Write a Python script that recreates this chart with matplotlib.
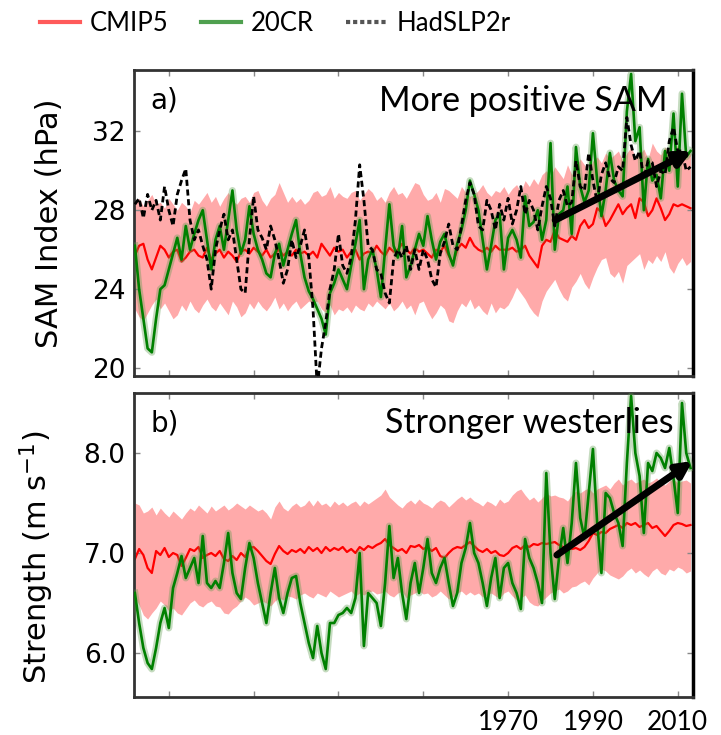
import matplotlib
matplotlib.use("Agg")
import matplotlib.pyplot as plt
import numpy as np
from matplotlib.lines import Line2D

# years 1882-2013
years = np.arange(1882, 2014)

# (a) SAM index, hPa
sam_cmip5 = [
    25.7, 26.2, 26.3, 25.5, 25.0, 25.6, 26.2, 26.0, 25.6, 25.9,
    26.0, 25.4, 25.6, 25.9, 26.0, 25.7, 25.6, 26.1, 25.5, 25.8,
    26.0, 25.6, 25.9, 25.7, 25.4, 25.9, 26.0, 25.8, 26.1, 25.9,
    25.7, 26.0, 25.6, 25.8, 26.0, 25.7, 25.9, 25.7, 26.0, 25.8,
    25.9, 25.7, 25.9, 25.6, 26.3, 26.0, 25.7, 26.1, 25.9, 26.0,
    25.6, 25.9, 26.0, 25.5, 25.8, 25.9, 25.8, 26.2, 25.9, 25.7,
    26.1, 25.9, 26.0, 26.3, 26.0, 25.8, 26.1, 25.9, 26.0, 25.8,
    25.6, 26.0, 25.9, 26.2, 25.7, 25.3, 26.0, 26.3, 26.1, 26.6,
    26.2, 26.0, 25.9, 26.1, 25.9, 26.2, 26.0, 26.0, 26.0, 26.1,
    25.9, 26.0, 26.2, 25.7, 25.4, 25.1, 26.2, 26.5, 26.4, 27.0,
    26.6, 26.5, 26.4, 26.7, 26.5, 27.2, 27.5, 27.1, 27.3, 28.1,
    27.9, 27.2, 27.5, 27.9, 28.3, 27.8, 28.1, 28.3, 27.6, 28.6,
    28.4, 27.7, 28.0, 28.6, 28.1, 27.5, 27.8, 28.3, 28.2, 28.3,
    28.2, 28.1,
]
sam_cmip5_hi = [
    28.4, 28.6, 28.2, 28.5, 28.8, 28.3, 28.4, 28.1, 28.6, 28.3,
    28.0, 28.4, 28.2, 27.9, 28.5, 28.3, 28.6, 28.9, 28.4, 28.7,
    28.2, 28.6, 28.9, 28.5, 28.3, 28.6, 28.7, 28.4, 28.9, 29.0,
    28.5, 28.2, 28.6, 28.8, 29.4, 28.9, 28.4, 28.7, 28.4, 28.6,
    28.3, 28.5, 28.9, 29.0, 28.7, 28.8, 29.2, 28.6, 28.9, 28.7,
    28.6, 28.9, 29.0, 28.5, 28.8, 29.1, 28.9, 28.5, 28.7, 28.4,
    28.9, 29.2, 28.8, 28.9, 28.6, 29.0, 29.4, 29.3, 28.8, 28.5,
    28.6, 28.9, 28.4, 29.1, 29.0, 28.8, 28.6, 29.2, 28.9, 28.7,
    28.8, 29.0, 29.3, 28.9, 28.7, 29.0, 28.9, 29.2, 28.8, 29.1,
    29.3, 28.9, 29.5, 29.2, 29.6, 29.3, 29.8, 30.0, 29.7, 30.2,
    29.9, 29.6, 30.3, 29.8, 30.2, 30.6, 30.3, 30.0, 30.5, 30.7,
    30.4, 30.9, 30.6, 30.8, 31.0, 30.5, 30.9, 31.2, 30.7, 30.8,
    31.1, 30.6, 31.4, 31.0, 30.8, 31.2, 30.9, 31.0, 31.3, 30.9,
    30.8, 30.9,
]
sam_cmip5_lo = [
    23.0, 22.6, 22.4, 22.8, 23.2, 23.5, 23.0, 23.3, 22.9, 22.5,
    22.7, 23.2, 22.9, 23.4, 23.0, 22.8, 23.2, 23.5, 23.1, 22.9,
    23.3, 23.0, 22.7, 23.4, 23.1, 22.6, 22.8, 23.3, 23.0, 23.4,
    23.1, 22.9, 23.2, 23.6, 23.0, 23.3, 22.9, 23.2, 23.4, 23.0,
    23.2, 23.4, 23.3, 23.4, 23.0, 22.8, 23.2, 22.7, 23.0, 22.9,
    23.1, 22.8, 23.2, 23.0, 22.9, 23.3, 23.1, 23.4, 23.2, 23.0,
    23.3, 22.9, 23.1, 23.4, 23.0, 23.2, 22.7, 23.3, 23.4, 22.9,
    22.5, 22.8, 23.2, 23.0, 22.4, 22.3, 22.9, 23.3, 23.1, 23.5,
    23.0, 23.2, 22.9, 22.7, 23.3, 22.8, 23.1, 23.0, 23.2, 23.6,
    24.1, 23.8, 23.5, 23.1, 22.8, 22.6, 23.4, 23.9, 24.2, 24.5,
    24.0, 23.6, 23.4, 24.1, 24.4, 24.8, 24.3, 24.0, 24.6, 25.1,
    25.5, 25.6, 24.8, 24.6, 24.9, 24.3, 25.2, 25.4, 25.6, 25.8,
    25.0, 25.5, 25.3, 25.7, 25.4, 25.9, 25.1, 24.8, 25.3, 25.6,
    25.2, 25.4,
]
sam_20cr = [
    26.2, 24.0, 22.5, 21.0, 20.8, 22.5, 24.0, 24.2, 25.0, 25.8,
    26.6, 25.5, 27.2, 26.0, 26.8, 27.5, 28.0, 26.5, 25.0, 26.5,
    27.2, 26.0, 27.5, 29.0, 27.0, 25.8, 26.5, 28.2, 26.8, 26.0,
    25.5, 24.8, 24.6, 25.8, 26.3, 25.2, 26.0, 26.8, 27.5, 25.8,
    24.6, 23.9, 23.5, 23.0, 22.5, 21.7, 23.8, 24.3, 25.0, 24.5,
    24.0, 25.2, 26.3, 27.5, 24.0, 25.5, 26.0, 25.0, 23.6, 26.0,
    28.3, 26.2, 25.6, 27.2, 24.6, 25.2, 26.0, 26.8, 26.2, 27.7,
    26.5, 25.5, 26.4, 26.8, 25.8, 25.2, 26.3, 27.0, 28.0, 29.5,
    28.8, 28.0, 26.5, 25.0, 26.2, 27.5, 27.8, 25.0, 26.6, 27.0,
    26.5, 25.6, 28.7, 27.2, 27.4, 28.0, 26.5, 27.5, 31.4, 26.0,
    27.8, 28.0, 29.2, 26.8, 31.2, 29.2, 28.4, 29.0, 31.9, 29.5,
    27.7, 29.0, 30.9, 29.5, 29.0, 28.7, 33.0, 34.9, 31.5, 32.2,
    28.0, 30.6, 29.5, 29.8, 28.6, 31.0, 30.0, 32.9, 29.2, 33.9,
    30.7, 31.0,
]
sam_hadslp2r = [
    28.3, 28.6, 27.6, 28.8, 28.0, 28.5, 27.5, 29.2, 28.0, 27.2,
    28.8, 29.5, 30.1, 27.5, 26.5, 27.0, 26.2, 25.5, 24.0, 26.0,
    27.0, 27.8, 26.5, 27.0, 25.5, 24.0, 23.8, 26.5, 28.7, 27.0,
    26.6, 26.0, 27.2, 26.5, 25.5, 24.3, 25.0, 26.5, 25.6, 26.2,
    27.0, 25.6, 23.0, 19.0, 21.0, 22.3, 24.0, 25.0, 26.8, 25.2,
    24.8, 25.6, 27.5, 30.3, 28.5, 26.2, 26.0, 25.0, 24.8, 23.8,
    23.3, 25.5, 26.0, 25.6, 26.2, 25.0, 26.0, 25.0, 26.0, 25.5,
    24.5, 24.1, 25.8, 26.4, 27.3, 26.2, 26.0, 27.2, 28.5, 29.4,
    28.8, 27.2, 27.0, 28.5, 28.0, 27.0, 28.3, 27.5, 28.6, 27.3,
    28.0, 29.2, 27.8, 28.5, 28.0, 27.0, 28.2, 29.2, 28.6, 27.2,
    28.5, 29.0, 28.2, 28.4, 30.5, 29.2, 29.0, 30.9, 29.5, 28.4,
    29.8, 30.4, 29.6, 29.4, 30.2, 30.0, 32.7, 31.3, 30.5, 31.0,
    29.6, 30.5, 30.4, 29.2, 30.0, 29.8, 31.5, 32.2, 31.0, 31.0,
    30.0, 30.2,
]

# (b) westerly jet strength, m/s
jet_cmip5 = [
    6.94, 7.04, 6.98, 6.85, 6.80, 7.02, 6.98, 7.05, 6.96, 7.00,
    6.98, 6.87, 6.95, 7.04, 7.02, 7.06, 6.95, 6.98, 7.00, 6.97,
    7.02, 6.94, 6.92, 6.97, 6.93, 7.00, 6.96, 7.05, 7.06, 7.02,
    6.97, 6.92, 6.89, 6.99, 7.07, 7.02, 6.99, 7.03, 7.01, 7.04,
    7.00, 7.06, 7.02, 7.05, 7.00, 7.06, 7.02, 7.05, 7.03, 7.06,
    7.01, 7.04, 7.00, 7.06, 7.03, 7.07, 7.05, 7.08, 7.10, 7.14,
    7.08, 7.05, 7.02, 7.04, 7.00, 7.07, 7.06, 7.08, 7.04, 7.06,
    7.02, 7.05, 6.97, 6.95, 7.00, 7.04, 7.06, 7.05, 7.08, 7.11,
    7.07, 7.03, 7.01, 7.04, 7.00, 7.02, 6.98, 6.97, 7.00, 7.05,
    7.07, 7.04, 7.08, 7.06, 7.09, 7.08, 7.10, 7.09, 7.10, 7.11,
    7.08, 7.06, 7.05, 7.04, 7.05, 7.03, 7.06, 7.12, 7.20, 7.18,
    7.21, 7.20, 7.24, 7.26, 7.28, 7.25, 7.30, 7.28, 7.30, 7.26,
    7.28, 7.30, 7.25, 7.27, 7.22, 7.17, 7.22, 7.28, 7.30, 7.29,
    7.27, 7.28,
]
jet_cmip5_hi = [
    7.50, 7.48, 7.40, 7.42, 7.46, 7.38, 7.45, 7.40, 7.36, 7.42,
    7.38, 7.34, 7.40, 7.45, 7.42, 7.48, 7.44, 7.40, 7.47, 7.42,
    7.45, 7.48, 7.43, 7.46, 7.50, 7.47, 7.44, 7.48, 7.45, 7.42,
    7.44, 7.40, 7.34, 7.46, 7.52, 7.45, 7.42, 7.47, 7.50, 7.46,
    7.48, 7.53, 7.47, 7.53, 7.48, 7.50, 7.46, 7.52, 7.48, 7.51,
    7.47, 7.50, 7.52, 7.47, 7.52, 7.49, 7.52, 7.55, 7.58, 7.64,
    7.56, 7.52, 7.48, 7.45, 7.50, 7.53, 7.49, 7.54, 7.50, 7.48,
    7.45, 7.50, 7.53, 7.51, 7.46, 7.50, 7.54, 7.57, 7.53, 7.56,
    7.52, 7.50, 7.47, 7.52, 7.50, 7.47, 7.54, 7.50, 7.52, 7.58,
    7.62, 7.64, 7.58, 7.53, 7.56, 7.51, 7.55, 7.60, 7.57, 7.58,
    7.56, 7.55, 7.52, 7.58, 7.62, 7.60, 7.63, 7.65, 7.60, 7.64,
    7.66, 7.68, 7.64, 7.70, 7.74, 7.68, 7.72, 7.74, 7.70, 7.72,
    7.74, 7.70, 7.72, 7.75, 7.70, 7.68, 7.72, 7.74, 7.70, 7.72,
    7.73, 7.70,
]
jet_cmip5_lo = [
    6.56, 6.48, 6.38, 6.34, 6.40, 6.45, 6.52, 6.48, 6.42, 6.45,
    6.40, 6.38, 6.44, 6.50, 6.53, 6.48, 6.46, 6.50, 6.52, 6.47,
    6.46, 6.40, 6.39, 6.44, 6.47, 6.52, 6.56, 6.53, 6.48, 6.50,
    6.52, 6.50, 6.47, 6.52, 6.55, 6.53, 6.57, 6.56, 6.54, 6.58,
    6.60, 6.57, 6.55, 6.60, 6.58, 6.56, 6.62, 6.59, 6.56, 6.58,
    6.60, 6.62, 6.57, 6.60, 6.58, 6.61, 6.62, 6.59, 6.60, 6.62,
    6.58, 6.56, 6.60, 6.62, 6.55, 6.58, 6.60, 6.62, 6.59, 6.60,
    6.56, 6.58, 6.62, 6.58, 6.54, 6.56, 6.60, 6.62, 6.58, 6.61,
    6.58, 6.60, 6.56, 6.58, 6.60, 6.57, 6.55, 6.60, 6.62, 6.57,
    6.53, 6.55, 6.58, 6.51, 6.48, 6.47, 6.52, 6.56, 6.60, 6.62,
    6.64, 6.60, 6.62, 6.66, 6.67, 6.70, 6.72, 6.68, 6.75, 6.80,
    6.84, 6.82, 6.78, 6.76, 6.74, 6.77, 6.82, 6.85, 6.80, 6.83,
    6.79, 6.76, 6.82, 6.85, 6.80, 6.78, 6.84, 6.82, 6.86, 6.84,
    6.80, 6.82,
]
jet_20cr = [
    6.60, 6.30, 6.05, 5.90, 5.84, 6.05, 6.30, 6.45, 6.25, 6.65,
    6.80, 6.97, 6.75, 6.85, 6.95, 6.70, 7.17, 6.70, 6.65, 6.72,
    6.65, 6.90, 7.20, 6.80, 6.60, 6.54, 6.85, 7.10, 6.95, 6.70,
    6.50, 6.30, 6.60, 6.85, 6.55, 6.40, 6.60, 6.75, 6.77, 6.50,
    6.30, 6.10, 5.95, 6.27, 6.00, 5.84, 6.30, 6.30, 6.38, 6.40,
    6.45, 6.40, 6.55, 7.00, 6.07, 6.60, 6.55, 6.50, 6.27, 6.70,
    7.27, 6.75, 6.95, 6.60, 6.34, 6.70, 6.90, 6.60, 6.85, 7.14,
    6.80, 6.70, 6.85, 6.95, 6.70, 6.47, 6.60, 6.90, 7.05, 7.30,
    7.00, 6.90, 6.70, 6.47, 6.75, 6.95, 6.55, 6.85, 6.90, 6.70,
    6.60, 6.44, 7.14, 6.95, 6.85, 6.70, 6.50, 7.80, 7.00, 6.54,
    6.95, 7.25, 6.90, 7.30, 7.90, 7.35, 7.15, 7.60, 8.04, 7.30,
    6.80, 7.60, 7.55, 7.40, 7.30, 7.07, 7.90, 8.57, 8.00, 7.77,
    7.20, 7.90, 7.82, 8.00, 7.95, 7.85, 8.05, 7.75, 7.40, 8.50,
    8.00, 7.85,
]

xticks = [1890, 1910, 1930, 1950, 1970, 1990, 2010]
xticklabels = ["", "", "", "", "1970", "1990", "2010"]

RED = "#ff0000"
PINK = "#ffaaaa"
GREEN = "#008000"
CALIBRI_LIKE = ["Lato", "DejaVu Sans"]

fig = plt.figure(figsize=(7.21, 7.35), dpi=100)
ax1 = fig.add_axes([0.1859, 0.4884, 0.7753, 0.4163])
ax2 = fig.add_axes([0.1859, 0.0517, 0.7753, 0.4136])


def draw_panel(ax, mean, lo, hi, cr20, had=None):
    ax.fill_between(years, lo, hi, color=PINK, lw=0, zorder=1)
    ax.plot(years, mean, color=RED, lw=1.6, zorder=2)
    ax.plot(years, cr20, color="#5a9a4a", lw=5, alpha=0.35, zorder=3)
    ax.plot(years, cr20, color=GREEN, lw=1.9, zorder=4)
    if had is not None:
        ax.plot(years, had, color="black", lw=2.0, ls=(0, (2.2, 1.3)), zorder=5)
    ax.set_xlim(1881.8, 2013.6)
    ax.set_xticks(xticks)
    ax.tick_params(direction="in", length=4, width=1, color="#888888",
                   top=True, right=True, labelsize=19, pad=6)
    for sp in ax.spines.values():
        sp.set_color("#333333")
        sp.set_linewidth(2)
    ax.spines["right"].set_color("black")
    ax.spines["right"].set_linewidth(2.5)


def trend_arrow(ax, start, end):
    ax.annotate("", xy=end, xytext=start, annotation_clip=False,
                arrowprops=dict(arrowstyle="-|>", color="black", lw=5,
                                mutation_scale=22, shrinkA=0, shrinkB=0),
                zorder=6)


draw_panel(ax1, sam_cmip5, sam_cmip5_lo, sam_cmip5_hi, sam_20cr, sam_hadslp2r)
ax1.set_ylim(19.6, 35.1)
ax1.set_yticks([20, 24, 28, 32])
ax1.set_xticklabels([])
ax1.set_ylabel("SAM Index (hPa)", fontsize=22)
ax1.yaxis.set_label_coords(-0.125, 0.5)
ax1.text(0.03, 0.9, "a)", transform=ax1.transAxes, fontsize=20, va="center")
ax1.text(0.955, 0.9, "More positive SAM", transform=ax1.transAxes,
         fontsize=24.5, family=CALIBRI_LIKE, ha="right", va="center", zorder=10)
trend_arrow(ax1, (1981.1, 27.5), (2013.3, 31.0))

draw_panel(ax2, jet_cmip5, jet_cmip5_lo, jet_cmip5_hi, jet_20cr)
ax2.set_ylim(5.56, 8.6)
ax2.set_yticks([6.0, 7.0, 8.0])
ax2.set_yticklabels(["6.0", "7.0", "8.0"])
ax2.set_xticklabels(xticklabels, fontsize=19, family=CALIBRI_LIKE)
ax2.tick_params(axis="x", pad=9)
ax2.set_ylabel("Strength (m s$^{-1}$)", fontsize=22)
ax2.yaxis.set_label_coords(-0.14, 0.46)
ax2.text(0.03, 0.9, "b)", transform=ax2.transAxes, fontsize=20, va="center")
ax2.text(0.965, 0.9, "Stronger westerlies", transform=ax2.transAxes,
         fontsize=24.5, family=CALIBRI_LIKE, ha="right", va="center", zorder=10)
trend_arrow(ax2, (1981.5, 6.98), (2013.5, 7.92))

handles = [
    Line2D([], [], color="#ff5a5a", lw=3),
    Line2D([], [], color="#4fa04f", lw=3),
    Line2D([], [], color="#555555", lw=3, ls=(0, (1.0, 0.7))),
]
fig.legend(handles, ["CMIP5", "20CR", "HadSLP2r"], loc="upper left",
           bbox_to_anchor=(0.05, 0.99), ncol=3, frameon=False,
           prop={"family": CALIBRI_LIKE, "size": 18.5},
           handlelength=1.56, handletextpad=0.39, columnspacing=1.25,
           borderpad=0.15, borderaxespad=0)

fig.savefig("out.png", dpi=100)
